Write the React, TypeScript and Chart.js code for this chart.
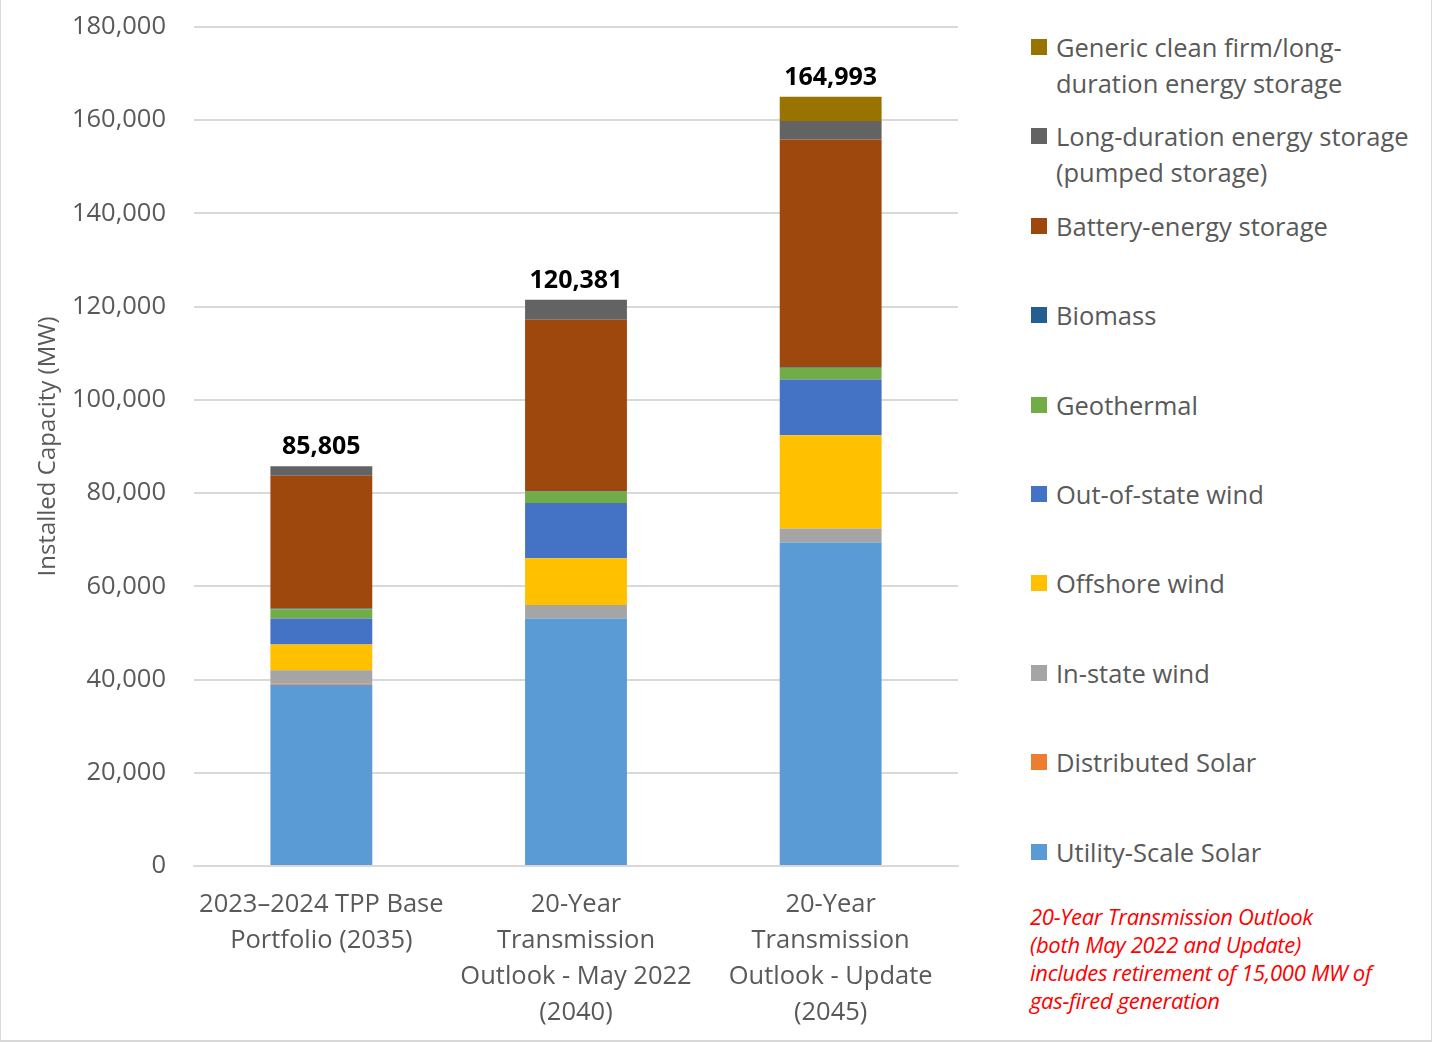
import React, { useEffect, useRef } from "react";
import { Chart, registerables } from "chart.js";

Chart.register(...registerables);

// ---------- data ----------
const categories: string[][] = [
  ["2023–2024 TPP Base", "Portfolio (2035)"],
  ["20-Year", "Transmission", "Outlook - May 2022", "(2040)"],
  ["20-Year", "Transmission", "Outlook - Update", "(2045)"],
];

const totals = [85805, 120381, 164993];

const utilityScaleSolar = [38900, 53100, 69400];
const distributedSolar = [200, 0, 0];
const inStateWind = [2900, 2900, 3000];
const offshoreWind = [5500, 10000, 20000];
const outOfStateWind = [5600, 11900, 12000];
const geothermal = [2000, 2400, 2500];
const biomass = [150, 100, 150];
const batteryStorage = [28500, 36800, 48800];
const longDurationStorage = [2000, 4300, 4000];
const genericCleanFirm = [0, 0, 5200];

const seriesNames = [
  "Utility-Scale Solar",
  "Distributed Solar",
  "In-state wind",
  "Offshore wind",
  "Out-of-state wind",
  "Geothermal",
  "Biomass",
  "Battery-energy storage",
  "Long-duration energy storage (pumped storage)",
  "Generic clean firm/long-duration energy storage",
];

const legendLines: string[][] = [
  ["Utility-Scale Solar"],
  ["Distributed Solar"],
  ["In-state wind"],
  ["Offshore wind"],
  ["Out-of-state wind"],
  ["Geothermal"],
  ["Biomass"],
  ["Battery-energy storage"],
  ["Long-duration energy storage", "(pumped storage)"],
  ["Generic clean firm/long-", "duration energy storage"],
];

const seriesValues = [
  utilityScaleSolar,
  distributedSolar,
  inStateWind,
  offshoreWind,
  outOfStateWind,
  geothermal,
  biomass,
  batteryStorage,
  longDurationStorage,
  genericCleanFirm,
];

const seriesColors = [
  "#5B9BD5",
  "#ED7D31",
  "#A5A5A5",
  "#FFC000",
  "#4472C4",
  "#70AD47",
  "#255E91",
  "#9E480E",
  "#636363",
  "#997300",
];

const yMin = 0;
const yMax = 180000;
const yStep = 20000;

const footnoteLines = [
  "20-Year Transmission Outlook",
  "(both May 2022 and Update)",
  "includes retirement of 15,000 MW of",
  "gas-fired generation",
];

const FONT = "'Open Sans', 'Noto Sans', sans-serif";
const TEXT_COLOR = "#595959";

const totalsPlugin = {
  id: "totalsLabels",
  afterDatasetsDraw(chart: any) {
    const { ctx } = chart;
    const yScale = chart.scales.y;
    const xScale = chart.scales.x;
    ctx.save();
    ctx.font = `bold 25px ${FONT}`;
    ctx.fillStyle = "#000000";
    ctx.textAlign = "center";
    ctx.textBaseline = "middle";
    categories.forEach((_, i) => {
      let sum = 0;
      chart.data.datasets.forEach((ds: any) => {
        sum += ds.data[i] || 0;
      });
      const x = xScale.getPixelForValue(i);
      const y = yScale.getPixelForValue(sum);
      ctx.fillText(totals[i].toLocaleString("en-US"), x, y - 19);
    });
    ctx.restore();
  },
};

export default function App() {
  const canvasRef = useRef<HTMLCanvasElement | null>(null);

  useEffect(() => {
    if (!canvasRef.current) return;
    Chart.defaults.font.family = FONT;
    const chart = new Chart(canvasRef.current, {
      type: "bar",
      data: {
        labels: categories as any,
        datasets: seriesNames.map((name, i) => ({
          label: name,
          data: seriesValues[i],
          backgroundColor: seriesColors[i],
          borderWidth: 0,
          categoryPercentage: 1,
          barPercentage: 0.4,
        })),
      },
      options: {
        animation: false,
        responsive: true,
        maintainAspectRatio: false,
        layout: { padding: { top: 27, right: 43, left: 0, bottom: 0 } },
        plugins: {
          legend: { display: false },
          tooltip: { enabled: false },
        },
        scales: {
          x: {
            stacked: true,
            grid: { display: false, drawTicks: false },
            border: { display: true, color: "#d9d9d9", width: 2 },
            ticks: {
              autoSkip: false,
              maxRotation: 0,
              minRotation: 0,
              padding: 21,
              color: TEXT_COLOR,
              font: { size: 25.5, lineHeight: "36px" },
            },
            afterFit: (s: any) => {
              s.height = 177;
            },
          },
          y: {
            stacked: true,
            min: yMin,
            max: yMax,
            ticks: {
              stepSize: yStep,
              padding: 28,
              color: TEXT_COLOR,
              font: { size: 25.5 },
              callback: (v: any) => Number(v).toLocaleString("en-US"),
            },
            grid: { color: "#d9d9d9", lineWidth: 2, drawTicks: false },
            border: { display: false },
            title: {
              display: true,
              text: "Installed Capacity (MW)",
              color: TEXT_COLOR,
              font: { size: 24 },
              padding: { top: 33, bottom: 0 },
            },
            afterFit: (s: any) => {
              s.width = 193;
              s.paddingTop = 0;
              s.paddingBottom = 0;
            },
          },
        },
      } as any,
      plugins: [totalsPlugin],
    });
    return () => chart.destroy();
  }, []);

  const legendOrder = seriesNames.map((_, i) => i).reverse();

  return (
    <div
      style={{
        position: "absolute",
        left: 0,
        top: 0,
        width: 1432,
        height: 1042,
        boxSizing: "border-box",
        borderLeft: "1px solid #d9d9d9",
        borderRight: "1px solid #d9d9d9",
        borderBottom: "2px solid #d9d9d9",
        background: "#ffffff",
        fontFamily: FONT,
        overflow: "hidden",
      }}
    >
      <div style={{ position: "absolute", left: 0, top: 0, width: 1000, height: 1043 }}>
        <canvas ref={canvasRef} />
      </div>
      <div style={{ position: "absolute", left: 1030, top: 29 }}>
        {legendOrder.map((i) => (
          <div key={i} style={{ display: "flex", alignItems: "flex-start", height: 89.4 }}>
            <div
              style={{
                width: 16,
                height: 16,
                marginTop: 10,
                background: seriesColors[i],
                flex: "0 0 auto",
              }}
            />
            <div
              style={{
                marginLeft: 9,
                fontSize: 25.5,
                lineHeight: "36px",
                color: TEXT_COLOR,
                whiteSpace: "nowrap",
              }}
            >
              {legendLines[i].map((l, k) => (
                <div key={k}>{l}</div>
              ))}
            </div>
          </div>
        ))}
      </div>
      <div
        style={{
          position: "absolute",
          left: 1029,
          top: 902,
          fontSize: 22,
          lineHeight: "28px",
          fontStyle: "italic",
          color: "#FF0000",
          whiteSpace: "nowrap",
          letterSpacing: -0.3,
        }}
      >
        {footnoteLines.map((l, k) => (
          <div key={k}>{l}</div>
        ))}
      </div>
    </div>
  );
}
